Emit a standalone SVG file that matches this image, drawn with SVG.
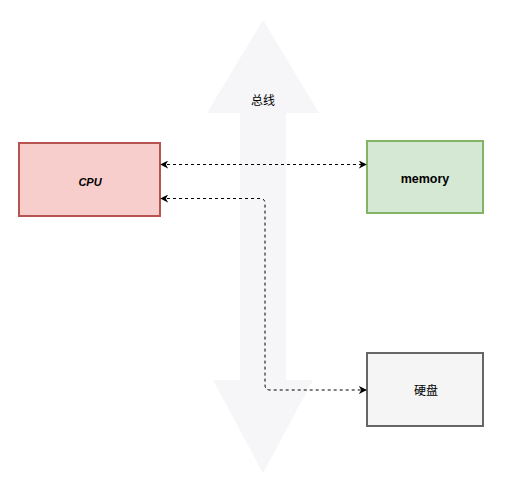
<svg xmlns="http://www.w3.org/2000/svg" width="508" height="492" viewBox="0 0 508 492">
<style>
.lbl{font-family:"Liberation Sans","Noto Sans CJK SC",sans-serif;font-size:12px;fill:#000;text-anchor:middle;dominant-baseline:central}
.conn{fill:none;stroke:#000;stroke-width:1;stroke-dasharray:3 3}
</style>
<defs>
<marker id="arr" viewBox="0 0 10 10" refX="9" refY="5" markerWidth="8" markerHeight="8" markerUnits="userSpaceOnUse" orient="auto-start-reverse">
<path d="M0,0 L10,5 L0,10 L3,5 Z" fill="#000"/>
</marker>
</defs>
<rect width="508" height="492" fill="#fff"/>
<g id="bus">
<path d="M263,20 L319,113 L286,113 L286,380 L313,380 L263,473 L213,380 L240,380 L240,113 L207,113 Z" fill="#f6f5f7"/>
<text class="lbl" x="263" y="101">总线</text>
</g>
<g id="cpu">
<rect x="19" y="143" width="141" height="73" fill="#f8cecc" stroke="#b85450" stroke-width="2"/>
<text class="lbl" x="90" y="182" font-style="italic" font-weight="bold" style="font-size:11px">CPU</text>
</g>
<g id="memory">
<rect x="367" y="141" width="116" height="72" fill="#d5e8d4" stroke="#82b366" stroke-width="2"/>
<text class="lbl" x="425" y="179" font-weight="bold" style="font-size:12.5px">memory</text>
</g>
<g id="disk">
<rect x="367" y="353" width="116" height="73" fill="#f5f5f5" stroke="#666666" stroke-width="2"/>
<text class="lbl" x="426" y="391">硬盘</text>
</g>
<g id="connectors">
<path class="conn" d="M161,164.5 L366,164.5" marker-start="url(#arr)" marker-end="url(#arr)"/>
<path class="conn" d="M161,198.5 L260,198.5 Q265,198.5 265,203.5 L265,385 Q265,390 270,390 L366,390" marker-start="url(#arr)" marker-end="url(#arr)"/>
</g>
</svg>
